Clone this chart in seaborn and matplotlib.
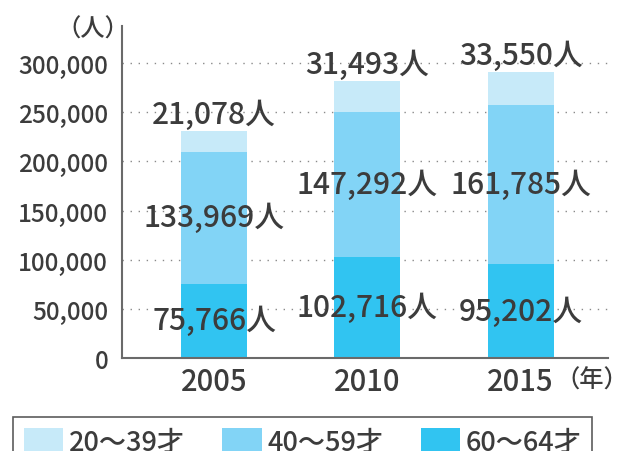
"""Stacked bar chart of population by age group (2005, 2010, 2015)."""

import matplotlib.pyplot as plt
import matplotlib.ticker as mticker
import pandas as pd
import seaborn as sns
from matplotlib.patches import Patch

years = ["2005", "2010", "2015"]
age_60_64 = [75766, 102716, 95202]
age_40_59 = [133969, 147292, 161785]
age_20_39 = [21078, 31493, 33550]
group_labels = ["20～39才", "40～59才", "60～64才"]

COLOR_LIGHT = "#c7eaf9"
COLOR_MID = "#82d4f6"
COLOR_DARK = "#31c4f1"
TEXT_COLOR = "#3c3c3c"

sns.set_theme(style="white")
plt.rcParams["font.family"] = ["Noto Sans CJK JP", "DejaVu Sans"]
plt.rcParams["font.weight"] = "medium"

df = pd.DataFrame({
    "year": years,
    "low": age_60_64,
    "mid": age_40_59,
    "high": age_20_39,
})
df["cum_low"] = df["low"]
df["cum_mid"] = df["low"] + df["mid"]
df["cum_high"] = df["cum_mid"] + df["high"]

fig = plt.figure(figsize=(6.29, 4.52), dpi=100)
ax = fig.add_axes([0.194, 0.2058, 0.7727, 0.734])

# stacked look: draw the totals first, then the lower cumulative sums over them
for col, color in [("cum_high", COLOR_LIGHT), ("cum_mid", COLOR_MID), ("cum_low", COLOR_DARK)]:
    sns.barplot(data=df, x="year", y=col, order=years, color=color,
                width=0.43, saturation=1, linewidth=0, ax=ax, zorder=2)

ax.set_xlim(-0.6, 2.57)
ax.set_ylim(0, 337600)
ax.set_yticks(range(0, 300001, 50000))
ax.yaxis.set_major_formatter(mticker.FuncFormatter(lambda v, _: f"{int(v):,}"))
ax.set_xlabel("")
ax.set_ylabel("")

for y in range(50000, 300001, 50000):
    ax.axhline(y, color="#8a8a8a", linewidth=1.0, linestyle=(0, (1, 4.8)), zorder=1)

for side in ["top", "right"]:
    ax.spines[side].set_visible(False)
for side in ["left", "bottom"]:
    ax.spines[side].set_color("#6a6a6a")
    ax.spines[side].set_linewidth(1.5)

ax.tick_params(axis="y", length=0, pad=10, labelsize=17.5, labelcolor=TEXT_COLOR)
ax.tick_params(axis="x", length=0, pad=6, labelsize=21, labelcolor=TEXT_COLOR)

label_font = dict(fontsize=21.5, color=TEXT_COLOR, ha="center", zorder=3)
for i in range(len(years)):
    ax.text(i, df["low"][i] / 2, f"{df['low'][i]:,}人", va="center", **label_font)
    ax.text(i, df["low"][i] + df["mid"][i] / 2, f"{df['mid'][i]:,}人", va="center", **label_font)
    ax.annotate(f"{df['high'][i]:,}人", (i, df["cum_high"][i]), xytext=(0, 1),
                textcoords="offset points", va="bottom", **label_font)

fig.text(56 / 629, 1 - 30 / 452, "（人）", fontsize=17.5, color=TEXT_COLOR,
         ha="left", va="center")
fig.text(628 / 629, 1 - 381 / 452, "（年）", fontsize=17.5, color=TEXT_COLOR,
         ha="right", va="center")

handles = [Patch(facecolor=c, edgecolor="none") for c in (COLOR_LIGHT, COLOR_MID, COLOR_DARK)]
leg = fig.legend(handles, group_labels, ncol=3, loc="upper left",
                 bbox_to_anchor=(13 / 629, 1 - 418 / 452), borderaxespad=0,
                 fontsize=19.5, frameon=True, fancybox=False, handlelength=1.45,
                 handleheight=1.1, handletextpad=0.2, columnspacing=1.4,
                 borderpad=0.4, labelcolor=TEXT_COLOR)
leg.get_frame().set_edgecolor("#333333")
leg.get_frame().set_linewidth(1.2)

fig.savefig("out.png", dpi=100)
